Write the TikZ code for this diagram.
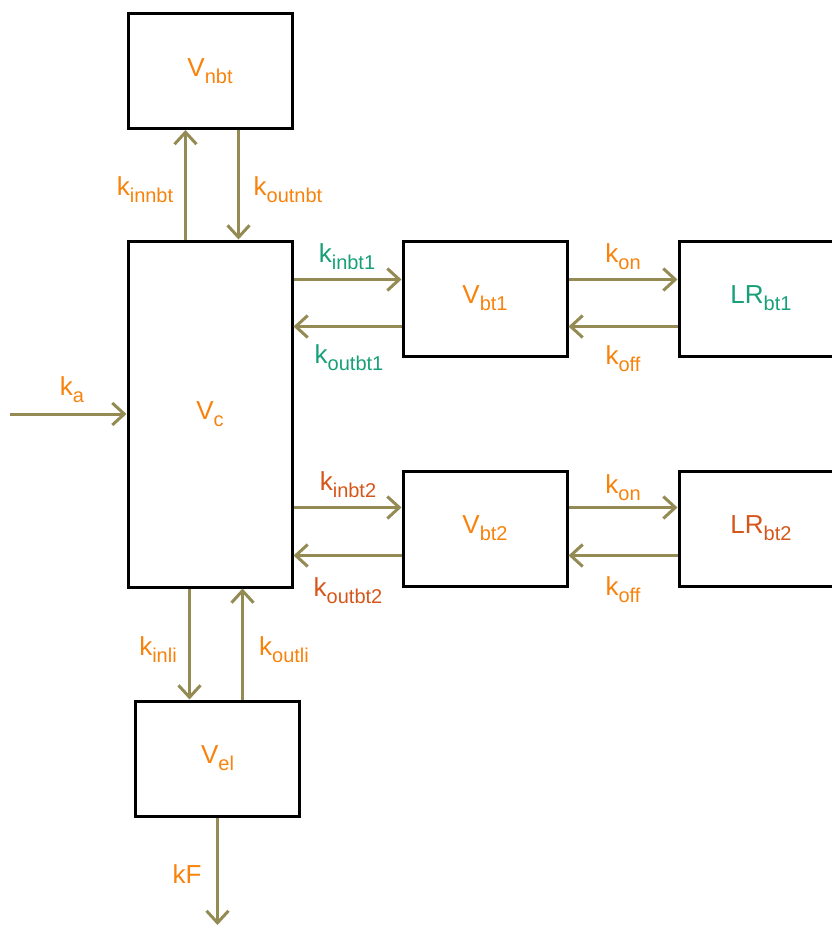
\documentclass[tikz,border=0pt]{standalone}
\usepackage{fontspec}
\setmainfont{Liberation Sans}
\usepackage{xcolor}
\usepackage{tikz}
\usetikzlibrary{
  arrows.meta,
  positioning,
  calc,
}
\definecolor{rateorange}{HTML}{F7820C}
\definecolor{rategreen}{HTML}{17A077}
\definecolor{ratered}{HTML}{D6561A}
\definecolor{flowolive}{HTML}{948A54}
\newcommand{\ksub}[2]{#1\raisebox{-3.5pt}{\fontsize{10}{12}\selectfont #2}}

\begin{document}
\begin{tikzpicture}[x=0.5pt, y=-0.5pt,
  compartment/.style={draw=black, line width=1.5pt, minimum width=82pt,
    minimum height=57.5pt, inner sep=0pt, font=\fontsize{13}{15}\selectfont},
  flow/.style={draw=flowolive, line width=1.5pt,
    -{Straight Barb[length=6pt, width=11pt]}},
  rate/.style={inner sep=0pt, font=\fontsize{13}{15}\selectfont},
]
  \useasboundingbox (0,0) rectangle (831,927);
  % compartments
  \node[compartment, text=rateorange] (vnbt) at (210,71) {\ksub{V}{nbt}};
  \node[compartment, text=rateorange, minimum height=173pt] (vc) at (210,414) {\ksub{V}{c}};
  \node[compartment, text=rateorange] (vbt1) at (485,298.5) {\ksub{V}{bt1}};
  \node[compartment, text=rategreen] (lrbt1) at (761,298.5) {\ksub{LR}{bt1}};
  \node[compartment, text=rateorange] (vbt2) at (485,528.5) {\ksub{V}{bt2}};
  \node[compartment, text=ratered] (lrbt2) at (761,528.5) {\ksub{LR}{bt2}};
  \node[compartment, text=rateorange] (vel) at (217.5,758.5) {\ksub{V}{el}};
  % helper points
  \coordinate (nbtin) at ($(vc.north west)+(59,0)$);
  \coordinate (nbtout) at ($(vnbt.south west)+(112,0)$);
  \coordinate (in1) at ($(vc.north east)+(0,40)$);
  \coordinate (out1) at ($(vbt1.north west)+(0,87)$);
  \coordinate (on1) at ($(vbt1.north east)+(0,40)$);
  \coordinate (off1) at ($(lrbt1.north west)+(0,87)$);
  \coordinate (in2) at ($(vbt2.north west)+(0,38)$);
  \coordinate (out2) at ($(vbt2.north west)+(0,86)$);
  \coordinate (on2) at ($(vbt2.north east)+(0,38)$);
  \coordinate (off2) at ($(lrbt2.north west)+(0,86)$);
  \coordinate (dose) at (10,414);
  \coordinate (liin) at ($(vc.south west)+(63,0)$);
  \coordinate (liout) at ($(vc.south west)+(116,0)$);
  \coordinate (elim) at (217.5,925);
  % flows
  \draw[flow] (nbtin) -- (nbtin |- vnbt.south);
  \draw[flow] (nbtout) -- (nbtout |- vc.north);
  \draw[flow] (in1) -- (in1 -| vbt1.west);
  \draw[flow] (out1) -- (out1 -| vc.east);
  \draw[flow] (on1) -- (on1 -| lrbt1.west);
  \draw[flow] (off1) -- (off1 -| vbt1.east);
  \draw[flow] (vc.east |- in2) -- (in2);
  \draw[flow] (out2) -- (out2 -| vc.east);
  \draw[flow] (on2) -- (on2 -| lrbt2.west);
  \draw[flow] (off2) -- (off2 -| vbt2.east);
  \draw[flow] (dose) -- (vc.west);
  \draw[flow] (liin) -- (liin |- vel.north);
  \draw[flow] (liout |- vel.north) -- (liout);
  \draw[flow] (vel.south) -- (elim);
  % rate labels
  \node[rate, text=rateorange] (kinnbt) at (145,190) {\ksub{k}{innbt}};
  \node[rate, text=rateorange] (koutnbt) at (288,190) {\ksub{k}{outnbt}};
  \node[rate, text=rategreen] (kinbt1) at (347,257) {\ksub{k}{inbt1}};
  \node[rate, text=rategreen] (koutbt1) at (349,358) {\ksub{k}{outbt1}};
  \node[rate, text=rateorange] (kon1) at (623,257) {\ksub{k}{on}};
  \node[rate, text=rateorange] (koff1) at (623,359) {\ksub{k}{off}};
  \node[rate, text=rateorange] (ka) at (72,390) {\ksub{k}{a}};
  \node[rate, text=ratered] (kinbt2) at (348,485) {\ksub{k}{inbt2}};
  \node[rate, text=ratered] (koutbt2) at (348,591) {\ksub{k}{outbt2}};
  \node[rate, text=rateorange] (kon2) at (623,488) {\ksub{k}{on}};
  \node[rate, text=rateorange] (koff2) at (623,590) {\ksub{k}{off}};
  \node[rate, text=rateorange] (kinli) at (158,650) {\ksub{k}{inli}};
  \node[rate, text=rateorange] (koutli) at (284,650) {\ksub{k}{outli}};
  \node[rate, text=rateorange] (kf) at (187,874) {kF};
\end{tikzpicture}
\end{document}
